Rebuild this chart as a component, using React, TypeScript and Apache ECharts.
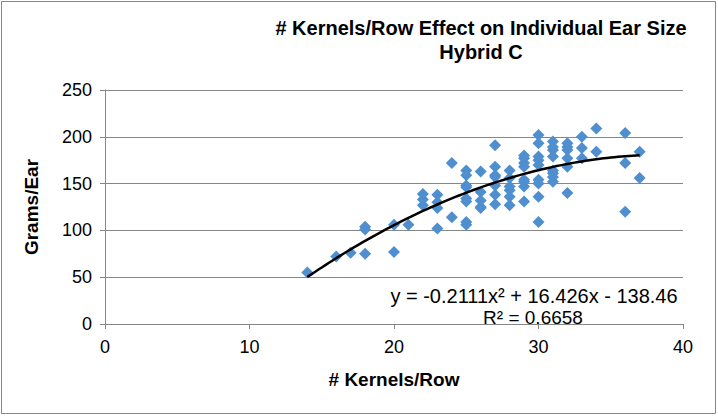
import React, { useEffect, useRef } from "react";
import * as echarts from "echarts";

const kernelsPerRow = [
  14, 16, 17, 18, 18, 18, 20, 20, 21,
  22, 22, 22, 23, 23, 23, 23, 24, 24,
  25, 25, 25, 25, 25, 25, 25, 25,
  26, 26, 26, 26, 26,
  27, 27, 27, 27, 27, 27, 27,
  28, 28, 28, 28, 28, 28,
  29, 29, 29, 29, 29, 29, 29, 29,
  30, 30, 30, 30, 30, 30, 30, 30, 30,
  31, 31, 31, 31, 31, 31, 31, 31,
  32, 32, 32, 32, 32, 32,
  33, 33, 33,
  34, 34,
  36, 36, 36,
  37, 37,
];
const gramsPerEar = [
  55, 72, 76, 75, 104, 101, 77, 106, 106,
  139, 133, 127, 138, 130, 124, 102, 172, 114,
  164, 159, 148, 146, 134, 131, 109, 106,
  163, 141, 132, 124, 125,
  191, 168, 159, 157, 148, 138, 128,
  164, 156, 147, 143, 136, 127,
  180, 177, 172, 168, 154, 152, 147, 131,
  202, 193, 179, 175, 170, 154, 150, 136, 109,
  195, 189, 186, 179, 164, 161, 157, 152,
  193, 189, 186, 177, 168, 140,
  200, 188, 177,
  209, 184,
  204, 172, 120,
  184, 156,
];
// Trendline coefficients shown on the chart: y = a x^2 + b x + c
const trendCoefficients = [-0.2111, 16.426, -138.46];
const trendRange = [14, 37];
const xTicks = [0, 10, 20, 30, 40];
const yTicks = [0, 50, 100, 150, 200, 250];

export default function App() {
  const ref = useRef<HTMLDivElement>(null);
  useEffect(() => {
    if (!ref.current) return;
    const chart = echarts.init(ref.current, null, { renderer: "svg" });
    const points = kernelsPerRow.map((x, i) => [x, gramsPerEar[i]]);
    const [a, b, c] = trendCoefficients;
    const trend: number[][] = [];
    for (let x = trendRange[0]; x <= trendRange[1] + 1e-9; x += 0.25) {
      trend.push([x, a * x * x + b * x + c]);
    }
    const font = "'Liberation Sans', Arial, sans-serif";
    chart.setOption({
      animation: false,
      backgroundColor: "#ffffff",
      textStyle: { fontFamily: font },
      grid: { left: 105, right: 35, top: 90, bottom: 92, containLabel: false },
      title: {
        text: "# Kernels/Row Effect on Individual Ear Size\nHybrid C",
        left: 476,
        top: 11,
        padding: 5,
        textAlign: "center",
        textStyle: {
          fontFamily: font,
          fontSize: 20,
          fontWeight: "bold",
          color: "#000",
          lineHeight: 24,
          align: "center",
        },
      },
      xAxis: {
        type: "value",
        min: xTicks[0],
        max: xTicks[xTicks.length - 1],
        interval: 10,
        name: "# Kernels/Row",
        nameLocation: "middle",
        nameGap: 46,
        nameTextStyle: { fontFamily: font, fontSize: 19, fontWeight: "bold", color: "#000" },
        axisLine: { show: true, lineStyle: { color: "#868686", width: 1 } },
        axisTick: { show: true, length: 5, lineStyle: { color: "#868686" } },
        axisLabel: { fontFamily: font, fontSize: 18, color: "#000", margin: 14 },
        splitLine: { show: false },
      },
      yAxis: {
        type: "value",
        min: yTicks[0],
        max: yTicks[yTicks.length - 1],
        interval: 50,
        name: "Grams/Ear",
        nameLocation: "middle",
        nameGap: 64,
        nameRotate: 90,
        nameTextStyle: { fontFamily: font, fontSize: 19, fontWeight: "bold", color: "#000" },
        axisLine: { show: true, lineStyle: { color: "#868686", width: 1 } },
        axisTick: { show: true, length: 5, lineStyle: { color: "#868686" } },
        axisLabel: { fontFamily: font, fontSize: 18, color: "#000", margin: 13 },
        splitLine: { show: true, lineStyle: { color: "#868686", width: 1 } },
      },
      series: [
        {
          type: "scatter",
          data: points,
          symbol: "diamond",
          symbolSize: [12, 12],
          itemStyle: { color: "#4f8fcf", opacity: 1 },
          z: 2,
        },
        {
          type: "line",
          data: trend,
          showSymbol: false,
          smooth: false,
          lineStyle: { color: "#000", width: 2.5 },
          z: 3,
        },
      ],
      graphic: [
        {
          type: "rect",
          shape: { x: 1.5, y: 1.5, width: 714, height: 412 },
          style: { fill: "none", stroke: "#868686", lineWidth: 1 },
          silent: true,
        },
        {
          type: "text",
          x: 534,
          y: 286,
          style: {
            text: "y = -0.2111x² + 16.426x - 138.46",
            fontFamily: font,
            fontSize: 20,
            fill: "#000",
            align: "center",
          },
          z: 10,
        },
        {
          type: "text",
          x: 533,
          y: 308,
          style: {
            text: "R² = 0.6658",
            fontFamily: font,
            fontSize: 19,
            fill: "#000",
            align: "center",
          },
          z: 10,
        },
      ],
    });
    return () => chart.dispose();
  }, []);
  return (
    <div
      ref={ref}
      style={{ position: "fixed", left: 0, top: 0, width: 718, height: 416 }}
    />
  );
}
